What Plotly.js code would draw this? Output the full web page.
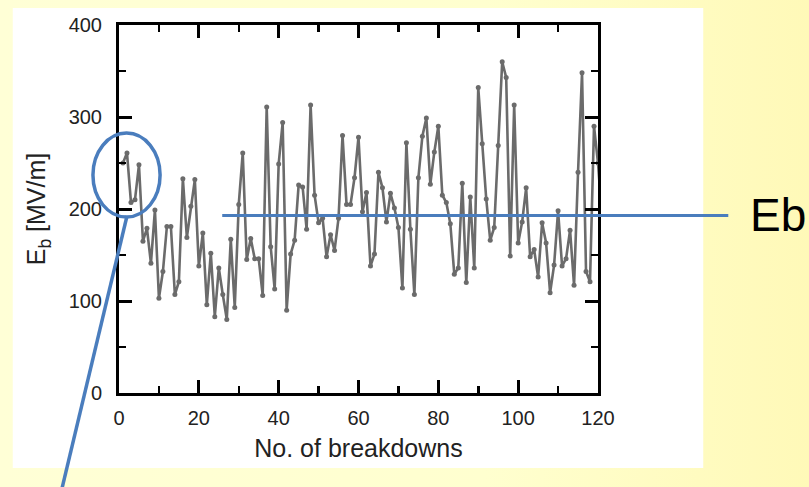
<!DOCTYPE html>
<html>
<head>
<meta charset="utf-8">
<script src="https://cdn.plot.ly/plotly-3.0.1.min.js"></script>
<style>
  html, body { margin: 0; padding: 0; }
  body { width: 809px; height: 487px; background: linear-gradient(90deg, #ffffd6 0%, #ffffcf 60%, #fff9b8 100%); }
  #chart { width: 809px; height: 487px; }
</style>
</head>
<body>
<div id="chart"></div>
<script>
// Breakdown field per breakdown event
const breakdownNo = [];
for (let i = 1; i <= 121; i++) breakdownNo.push(i);
const fieldMVm = [
  250, 261, 207, 210, 248, 165, 179, 141, 199, 103,
  132, 181, 181, 107, 121, 233, 169, 203, 232, 138,
  174, 96, 152, 83, 136, 107, 80, 167, 93, 205,
  261, 145, 168, 146, 146, 106, 311, 159, 113, 249,
  294, 90, 151, 166, 226, 224, 178, 313, 215, 185,
  190, 148, 172, 155, 190, 280, 205, 205, 234, 278,
  197, 218, 138, 151, 240, 223, 186, 217, 201, 180,
  114, 272, 178, 107, 234, 279, 299, 227, 262, 290,
  215, 207, 184, 129, 136, 228, 120, 213, 136, 332,
  271, 211, 166, 180, 269, 360, 343, 149, 313, 163,
  186, 223, 148, 156, 126, 185, 163, 109, 139, 198,
  138, 146, 177, 117, 240, 348, 132, 121, 290, 250,
  190
];
// Level marked as Eb
const ebLevel = 193;
const ebLabel = 'Eb';

const xTickVals = [0, 20, 40, 60, 80, 100, 120];
const yTickVals = [0, 100, 200, 300, 400];

const blue = '#4a7dbd';

const trace = {
  x: breakdownNo,
  y: fieldMVm,
  type: 'scatter',
  mode: 'lines+markers',
  line: { color: '#6b6b6b', width: 2.6 },
  marker: { color: '#6b6b6b', size: 5 },
  hoverinfo: 'x+y',
  cliponaxis: true
};

const axisCommon = {
  showgrid: false,
  zeroline: false,
  showline: true,
  linecolor: '#000',
  linewidth: 3,
  mirror: 'allticks',
  ticks: 'inside',
  ticklen: 13,
  tickwidth: 3,
  tickcolor: '#000',
  tickfont: { family: 'Liberation Sans, Arial, sans-serif', size: 20, color: '#222' },
  fixedrange: true
};

const layout = {
  width: 809,
  height: 487,
  margin: { l: 119, r: 211, t: 25, b: 94 },
  paper_bgcolor: 'rgba(0,0,0,0)',
  plot_bgcolor: '#ffffff',
  showlegend: false,
  xaxis: Object.assign({}, axisCommon, {
    range: [0, 120],
    tickvals: xTickVals,
    ticktext: xTickVals.map(String),
    minor: { ticks: 'inside', ticklen: 7, tickwidth: 2.5, tickcolor: '#000', dtick: 10, tick0: 0 },
    ticklabelstandoff: 5,
    title: { text: 'No. of breakdowns', font: { family: 'Liberation Sans, Arial, sans-serif', size: 25, color: '#222' }, standoff: 12 }
  }),
  yaxis: Object.assign({}, axisCommon, {
    range: [0, 400],
    tickvals: yTickVals,
    ticktext: yTickVals.map(String),
    minor: { ticks: 'inside', ticklen: 7, tickwidth: 2.5, tickcolor: '#000', dtick: 50, tick0: 0 },
    ticklabelstandoff: 10,
    title: { text: 'E<sub>b</sub> [MV/m]', font: { family: 'Liberation Sans, Arial, sans-serif', size: 25, color: '#222' }, standoff: 16 }
  }),
  shapes: [
    // white panel behind the figure
    { type: 'rect', xref: 'paper', yref: 'paper', x0: -0.2218, x1: 1.2197, y0: -0.2038, y1: 1.0462,
      fillcolor: '#ffffff', line: { width: 0 }, layer: 'below' },
    // Eb level line
    { type: 'line', xref: 'paper', yref: 'y', x0: 0.2155, x1: 1.272, y0: ebLevel, y1: ebLevel,
      line: { color: blue, width: 3 } },
    // highlight around the first breakdowns
    { type: 'circle', xref: 'paper', yref: 'paper', x0: -0.0544, x1: 0.0858, y0: 0.478, y1: 0.7065,
      line: { color: blue, width: 3.5 } },
    // pointer from the highlight
    { type: 'line', xref: 'paper', yref: 'paper', x0: 0.0167, y0: 0.481, x1: -0.121, y1: -0.27,
      line: { color: blue, width: 3.5 } }
  ],
  annotations: [
    { text: ebLabel, xref: 'paper', yref: 'y', x: 1.3766, y: ebLevel, showarrow: false,
      xanchor: 'center', yanchor: 'middle',
      font: { family: 'Liberation Sans, Arial, sans-serif', size: 46, color: '#000' } }
  ]
};

Plotly.newPlot('chart', [trace], layout, { displayModeBar: false, staticPlot: true });
</script>
</body>
</html>
